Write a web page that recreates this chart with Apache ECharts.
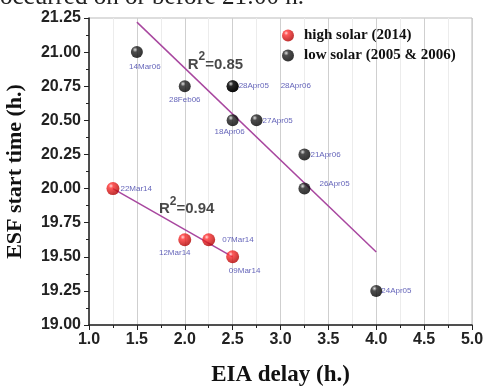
<!DOCTYPE html>
<html>
<head>
<meta charset="utf-8">
<script src="https://cdn.jsdelivr.net/npm/echarts@6/dist/echarts.min.js"></script>
<style>
html,body{margin:0;padding:0;background:#fff;}
#main{width:484px;height:387px;}
</style>
</head>
<body>
<div id="main"></div>
<script>
// 高太阳活动 (2014)
var highX = [1.25, 2.0, 2.25, 2.5];
var highY = [20.0, 19.625, 19.625, 19.5];
var highNames = ['22Mar14', '12Mar14', '07Mar14', '09Mar14'];
// 低太阳活动 (2005 & 2006)
var lowX = [1.5, 2.0, 2.5, 2.5, 2.5, 2.75, 3.25, 3.25, 4.0];
var lowY = [21.0, 20.75, 20.75, 20.75, 20.5, 20.5, 20.25, 20.0, 19.25];
var lowNames = ['14Mar06', '28Feb06', '28Apr05', '28Apr06', '18Apr06', '27Apr05', '21Apr06', '26Apr05', '24Apr05'];
// 拟合线端点
var fitHigh = [[1.25, 20.0], [2.5, 19.5]];
var fitLow = [[1.5, 21.22], [4.0, 19.535]];
// R² 标注
var r2Values = ['0.85', '0.94'];
var r2Pos = [[2.32, 20.93], [2.02, 19.87]];

// 标签位置 (样式)
var highLabelPos = [['right', [-2, 0]], ['bottom', [-10, 0]], ['right', [4, 0]], ['bottom', [12, 1]]];
var lowLabelPos = [['bottom', [8, 2]], ['bottom', [0, 1]], ['right', [-3, 0]], ['right', [39, 0]], ['bottom', [-3, -2]],
	['right', [-3, 0]], ['right', [-3, 0]], ['right', [6, -5]], ['right', [-4, 0]]];

var labelColor = '#3c3ca8';
function buildPoints(xs, ys, names, pos) {
	var arr = [];
	for (var i = 0; i < xs.length; i++) {
		arr.push({
			value: [xs[i], ys[i]],
			name: names[i],
			label: {position: pos[i][0], offset: pos[i][1]}
		});
	}
	return arr;
}

var redBall = new echarts.graphic.RadialGradient(0.35, 0.3, 0.7, [
	{offset: 0, color: '#ffd0d0'}, {offset: 0.25, color: '#ff3030'}, {offset: 1, color: '#b00000'}
]);
var blackBall = new echarts.graphic.RadialGradient(0.35, 0.3, 0.7, [
	{offset: 0, color: '#d8d8d8'}, {offset: 0.3, color: '#202020'}, {offset: 1, color: '#000'}
]);

var myChart = echarts.init(document.getElementById('main'));
var option = {
	animation: false,
	grid: {
		left: 89, right: 12, top: 18, bottom: 62,
		outerBoundsMode: 'none', containLabel: false,
		show: true, borderColor: '#bbb', borderWidth: 1
	},
	legend: {
		orient: 'vertical',
		left: 277,
		top: 23,
		itemGap: 5,
		itemWidth: 12,
		itemHeight: 12,
		data: ['high solar (2014)', 'low solar (2005 & 2006)'],
		textStyle: {fontFamily: 'Liberation Serif', fontWeight: 'bold', fontSize: 15, color: '#111', padding: [0, 0, 0, 5]}
	},
	xAxis: {
		type: 'value',
		min: 1, max: 5, interval: 0.5,
		name: 'EIA delay (h.)',
		nameLocation: 'middle',
		nameGap: 39,
		nameTextStyle: {fontFamily: 'Liberation Serif', fontWeight: 'bold', fontSize: 23, color: '#111'},
		axisLine: {lineStyle: {color: '#222', width: 1.5}},
		axisTick: {length: 5, lineStyle: {color: '#222'}},
		minorTick: {show: true, splitNumber: 2, length: 3, lineStyle: {color: '#222'}},
		splitLine: {show: true, lineStyle: {color: '#cfcfcf'}},
		minorSplitLine: {show: true, lineStyle: {color: '#ececec'}},
		axisLabel: {
			fontFamily: 'Liberation Sans', fontWeight: 'bold', fontSize: 16, color: '#222', margin: 7,
			formatter: function (v) { return v.toFixed(1); }
		}
	},
	yAxis: {
		type: 'value',
		min: 19, max: 21.25, interval: 0.25,
		name: 'ESF start time (h.)',
		nameLocation: 'middle',
		nameGap: 63,
		nameTextStyle: {fontFamily: 'Liberation Serif', fontWeight: 'bold', fontSize: 22, color: '#111'},
		axisLine: {show: true, lineStyle: {color: '#222', width: 1.5}},
		axisTick: {show: true, length: 5, lineStyle: {color: '#222'}},
		minorTick: {show: true, splitNumber: 2, length: 3, lineStyle: {color: '#222'}},
		splitLine: {show: false},
		axisLabel: {
			fontFamily: 'Liberation Sans', fontWeight: 'bold', fontSize: 16, color: '#222', margin: 8,
			formatter: function (v) { return v.toFixed(2); }
		}
	},
	graphic: [{
		type: 'text',
		left: 0, top: -15,
		style: {text: 'occurred on or before 21:00 h.', font: '25px "Liberation Serif"', fill: '#222'}
	}],
	series: [
		{
			name: 'fitLow', type: 'line', data: fitLow, symbol: 'none', silent: true,
			lineStyle: {color: '#a8479f', width: 1.5}, z: 2
		},
		{
			name: 'fitHigh', type: 'line', data: fitHigh, symbol: 'none', silent: true,
			lineStyle: {color: '#a8479f', width: 1.5}, z: 2
		},
		{
			name: 'R2', type: 'scatter', symbolSize: 0, silent: true,
			data: [{value: r2Pos[0], name: r2Values[0]}, {value: r2Pos[1], name: r2Values[1]}],
			label: {
				show: true, position: 'inside',
				formatter: '{r|R}{s|2}{r|={b}}',
				rich: {
					r: {fontFamily: 'Liberation Sans', fontWeight: 'bold', fontSize: 15, color: '#1a1a1a', lineHeight: 21, verticalAlign: 'bottom'},
					s: {fontFamily: 'Liberation Sans', fontWeight: 'bold', fontSize: 12, color: '#1a1a1a', lineHeight: 21, verticalAlign: 'top'}
				}
			}
		},
		{
			name: 'high solar (2014)', type: 'scatter', symbolSize: 13, z: 5,
			itemStyle: {color: redBall},
			label: {show: true, formatter: '{b}', fontFamily: 'Liberation Sans', fontSize: 8, color: labelColor, distance: 3},
			data: buildPoints(highX, highY, highNames, highLabelPos)
		},
		{
			name: 'low solar (2005 & 2006)', type: 'scatter', symbolSize: 12, z: 5,
			itemStyle: {color: blackBall},
			label: {show: true, formatter: '{b}', fontFamily: 'Liberation Sans', fontSize: 8, color: labelColor, distance: 3},
			data: buildPoints(lowX, lowY, lowNames, lowLabelPos)
		}
	]
};
myChart.setOption(option);
</script>
</body>
</html>
